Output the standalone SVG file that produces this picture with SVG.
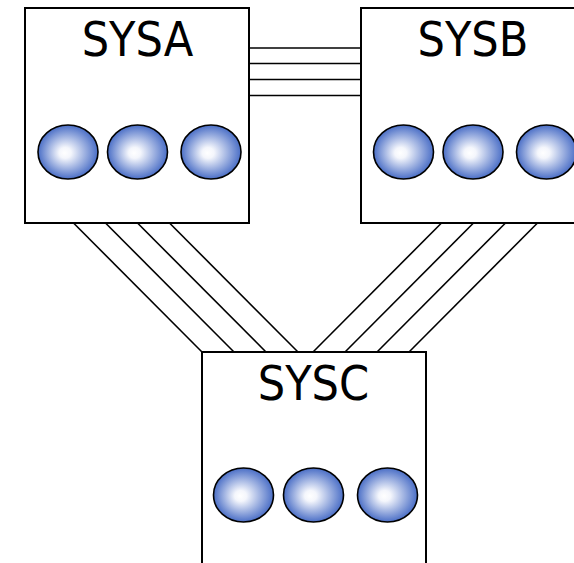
<svg xmlns="http://www.w3.org/2000/svg" width="574" height="563" viewBox="0 0 574 563">
<defs>
<radialGradient id="ball" cx="0.5" cy="0.5" r="0.5" fx="0.44" fy="0.52">
<stop offset="0" stop-color="#ffffff"/>
<stop offset="0.2" stop-color="#f4f6fc"/>
<stop offset="1" stop-color="#4a6ec6"/>
</radialGradient>
<style>
.box{fill:#ffffff;stroke:#000000;stroke-width:2}
.ball{fill:url(#ball);stroke:#000000;stroke-width:1.6}
.lbl{font-family:"DejaVu Sans Condensed","DejaVu Sans",sans-serif;font-stretch:condensed;font-size:48px;fill:#000000;text-anchor:middle}
.wire{stroke:#000000;stroke-width:1.6;fill:none}
</style>
</defs>
<rect width="574" height="563" fill="#ffffff"/>
<g id="connectors">
<line class="wire" x1="249" y1="48" x2="361" y2="48"/>
<line class="wire" x1="249" y1="63.5" x2="361" y2="63.5"/>
<line class="wire" x1="249" y1="79.5" x2="361" y2="79.5"/>
<line class="wire" x1="249" y1="95.5" x2="361" y2="95.5"/>
<line class="wire" x1="73.5" y1="223" x2="202" y2="352"/>
<line class="wire" x1="105.5" y1="223" x2="234" y2="352"/>
<line class="wire" x1="137.5" y1="223" x2="266" y2="352"/>
<line class="wire" x1="169.5" y1="223" x2="298" y2="352"/>
<line class="wire" x1="441.5" y1="223" x2="313" y2="352"/>
<line class="wire" x1="473.5" y1="223" x2="345" y2="352"/>
<line class="wire" x1="505.5" y1="223" x2="377" y2="352"/>
<line class="wire" x1="537.5" y1="223" x2="409" y2="352"/>
</g>
<g id="SYSA">
<rect class="box" x="25" y="8" width="224" height="215"/>
<text class="lbl" x="137.5" y="56">SYSA</text>
<ellipse class="ball" cx="68" cy="152" rx="30" ry="27"/>
<ellipse class="ball" cx="137.5" cy="152" rx="30" ry="27"/>
<ellipse class="ball" cx="211" cy="152" rx="30" ry="27"/>
</g>
<g id="SYSB">
<rect class="box" x="361" y="8" width="224" height="215"/>
<text class="lbl" x="473" y="56">SYSB</text>
<ellipse class="ball" cx="403.5" cy="152" rx="30" ry="27"/>
<ellipse class="ball" cx="473" cy="152" rx="30" ry="27"/>
<ellipse class="ball" cx="546.5" cy="152" rx="30" ry="27"/>
</g>
<g id="SYSC">
<rect class="box" x="202" y="352" width="224" height="215"/>
<text class="lbl" x="313.5" y="400">SYSC</text>
<ellipse class="ball" cx="243.5" cy="495" rx="30" ry="27"/>
<ellipse class="ball" cx="313.5" cy="495" rx="30" ry="27"/>
<ellipse class="ball" cx="387.5" cy="495" rx="30" ry="27"/>
</g>
</svg>
